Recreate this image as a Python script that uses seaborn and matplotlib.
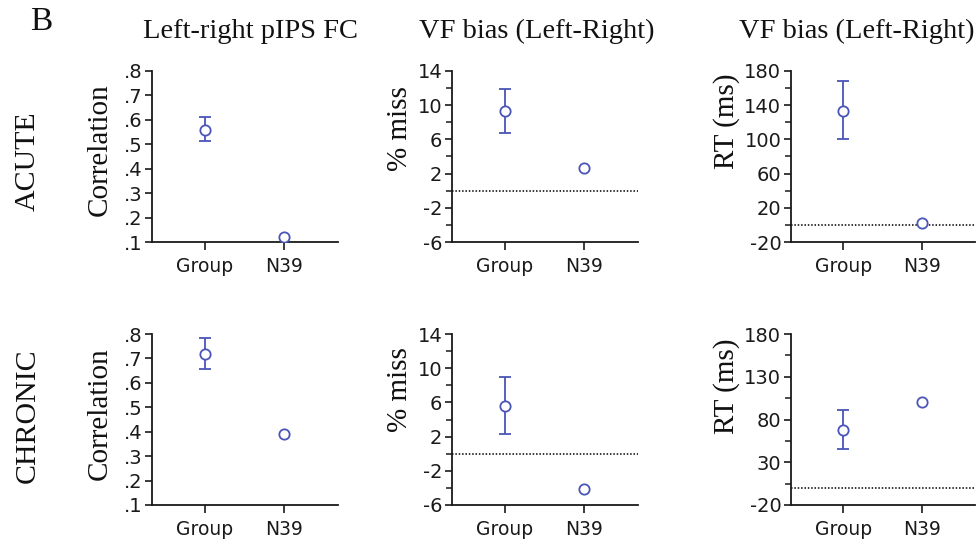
import matplotlib
matplotlib.use("Agg")
import matplotlib.pyplot as plt
import seaborn as sns
import pandas as pd
from matplotlib.ticker import FixedLocator

sns.set_theme(style="ticks")
plt.rcParams["font.family"] = ["DejaVu Sans"]

# ---- data -------------------------------------------------------------
categories = ["Group", "N39"]

acute_corr = [0.56, 0.12]
acute_corr_lo = [0.515, None]
acute_corr_hi = [0.61, None]

acute_miss = [9.3, 2.7]
acute_miss_lo = [6.8, None]
acute_miss_hi = [11.9, None]

acute_rt = [133, 2]
acute_rt_lo = [100, None]
acute_rt_hi = [168, None]

chronic_corr = [0.72, 0.39]
chronic_corr_lo = [0.655, None]
chronic_corr_hi = [0.785, None]

chronic_miss = [5.6, -4.1]
chronic_miss_lo = [2.3, None]
chronic_miss_hi = [9.0, None]

chronic_rt = [68, 100]
chronic_rt_lo = [46, None]
chronic_rt_hi = [91, None]

col_titles = ["Left-right pIPS FC", "VF bias (Left-Right)", "VF bias (Left-Right)"]
row_titles = ["ACUTE", "CHRONIC"]
y_titles = ["Correlation", "% miss", "RT (ms)"]

corr_ticks = [0.1, 0.2, 0.3, 0.4, 0.5, 0.6, 0.7, 0.8]
corr_labels = [".1", ".2", ".3", ".4", ".5", ".6", ".7", ".8"]
miss_ticks = [-6, -2, 2, 6, 10, 14]
miss_minor = [-4, 0, 4, 8, 12]
rt_acute_ticks = [-20, 20, 60, 100, 140, 180]
rt_acute_minor = [0, 40, 80, 120, 160]
rt_chronic_ticks = [-20, 30, 80, 130, 180]
rt_chronic_minor = [5, 55, 105, 155]

BLUE = "#4a55b8"
W, H = 980, 542
SERIF = "Liberation Serif"

fig = plt.figure(figsize=(W / 100, H / 100), dpi=100)
fig.patch.set_facecolor("white")


def px_axes(left, top, width, height):
    return fig.add_axes([left / W, 1 - (top + height) / H, width / W, height / H])


def panel(ax, vals, lo, hi, ylim, ticks, labels=None, minor=None, zero_line=True):
    df = pd.DataFrame({"cond": categories, "val": vals})
    for i, (l, h) in enumerate(zip(lo, hi)):
        if l is not None:
            ax.errorbar(i, vals[i], yerr=[[vals[i] - l], [h - vals[i]]],
                        fmt="none", ecolor=BLUE, elinewidth=1.3,
                        capsize=4, capthick=1.3, zorder=2)
    sns.scatterplot(data=df, x="cond", y="val", ax=ax, marker="o",
                    s=55, facecolor="white", edgecolor=BLUE, linewidth=1.3,
                    zorder=3, legend=False)
    if zero_line:
        ax.axhline(0, color="black", lw=1.1, ls=(0, (1, 1.2)), zorder=1)
    ax.set_xlim(-0.67, 1.68)
    ax.set_ylim(*ylim)
    ax.yaxis.set_major_locator(FixedLocator(ticks))
    if labels is not None:
        ax.set_yticklabels(labels)
    else:
        ax.set_yticklabels([str(t) for t in ticks])
    if minor is not None:
        ax.yaxis.set_minor_locator(FixedLocator(minor))
    ax.set_xlabel("")
    ax.set_ylabel("")
    sns.despine(ax=ax)
    for s in ("left", "bottom"):
        ax.spines[s].set_linewidth(1.3)
        ax.spines[s].set_color("#1a1a1a")
    ax.tick_params(axis="y", which="major", length=5, width=1.2,
                   labelsize=14, pad=2, colors="#1a1a1a")
    ax.tick_params(axis="y", which="minor", length=4, width=1.1, colors="#1a1a1a")
    ax.tick_params(axis="x", length=6, width=1.2, labelsize=13.5, pad=5,
                   colors="#1a1a1a")
    ax.set_facecolor("white")


lefts = [152, 452, 791]
widths = [186, 186, 184]
tops = [71, 334]
ht = 171

ax = px_axes(lefts[0], tops[0], widths[0], ht)
panel(ax, acute_corr, acute_corr_lo, acute_corr_hi, (0.1, 0.8), corr_ticks,
      corr_labels, zero_line=False)
ax = px_axes(lefts[1], tops[0], widths[1], ht)
panel(ax, acute_miss, acute_miss_lo, acute_miss_hi, (-6, 14), miss_ticks,
      minor=miss_minor)
ax = px_axes(lefts[2], tops[0], widths[2], ht)
panel(ax, acute_rt, acute_rt_lo, acute_rt_hi, (-20, 180), rt_acute_ticks,
      minor=rt_acute_minor)

ax = px_axes(lefts[0], tops[1], widths[0], ht)
panel(ax, chronic_corr, chronic_corr_lo, chronic_corr_hi, (0.1, 0.8), corr_ticks,
      corr_labels, zero_line=False)
ax = px_axes(lefts[1], tops[1], widths[1], ht)
panel(ax, chronic_miss, chronic_miss_lo, chronic_miss_hi, (-6, 14), miss_ticks,
      minor=miss_minor)
ax = px_axes(lefts[2], tops[1], widths[2], ht)
panel(ax, chronic_rt, chronic_rt_lo, chronic_rt_hi, (-20, 180), rt_chronic_ticks,
      minor=rt_chronic_minor)


def ftext(x, y, s, **kw):
    fig.text(x / W, 1 - y / H, s, family=SERIF, color="#111111", **kw)


# panel letter, column and row headings
ftext(41, 22, "B", fontsize=24, ha="center", va="center")
for x, t in zip([250, 537, 857], col_titles):
    ftext(x, 31, t, fontsize=20.5, ha="center", va="center")
ftext(28, 161, row_titles[0], fontsize=21.5, ha="center", va="center", rotation=90)
ftext(28, 416, row_titles[1], fontsize=21.5, ha="center", va="center", rotation=90)

# y-axis titles
ylab_x = [100, 400, 727]
ylab_y_top = [150, 129, 121]
ylab_y_bot = [414, 390, 386]
for x, yt, yb, t in zip(ylab_x, ylab_y_top, ylab_y_bot, y_titles):
    ftext(x, yt, t, fontsize=21, ha="center", va="center", rotation=90)
    ftext(x, yb, t, fontsize=21, ha="center", va="center", rotation=90)

fig.savefig("out.png", dpi=100, facecolor="white")
